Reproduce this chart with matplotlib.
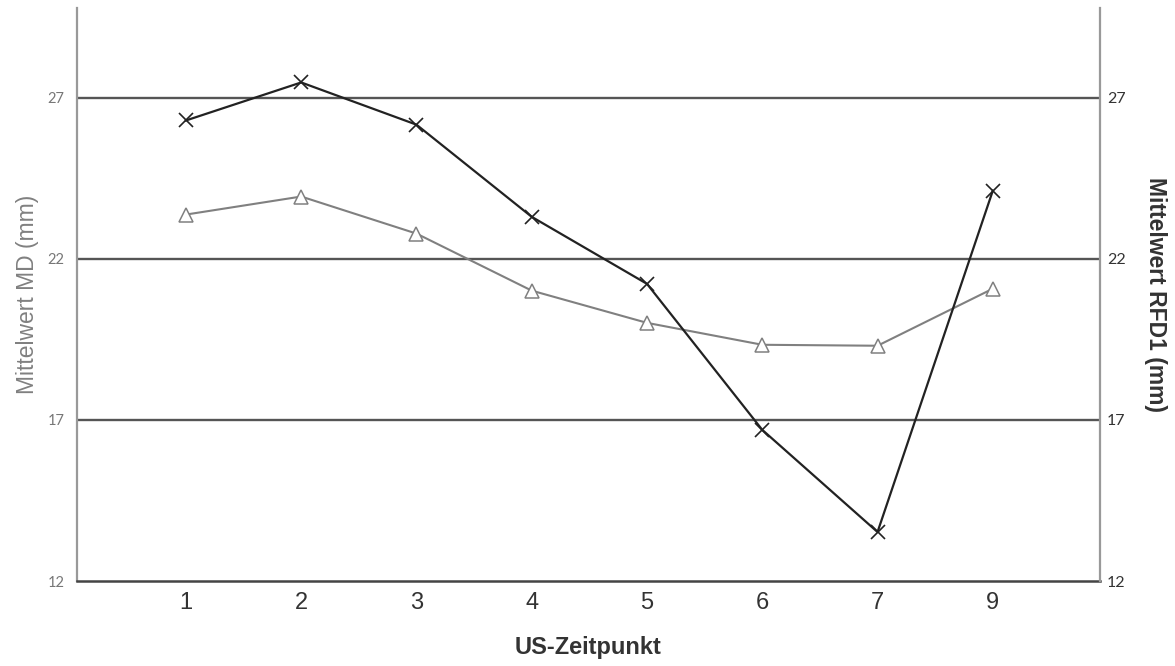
import numpy as np
import matplotlib.pyplot as plt

zeitpunkte = ['1', '2', '3', '4', '5', '6', '7', '9']
rfd1 = [26.29, 27.47, 26.16, 23.30, 21.22, 16.69, 13.52, 24.11]
md = [23.37, 23.93, 22.78, 21.01, 20.01, 19.33, 19.30, 21.07]
yticks = [12, 17, 22, 27]

fig = plt.figure(figsize=(11.75, 6.66), dpi=100)
ax = fig.add_axes([77/1175, 1 - 581/666, (1100 - 77)/1175, (581 - 8)/666])
ax2 = ax.twinx()

x = np.arange(len(zeitpunkte))

for y in [17, 22, 27]:
    ax.axhline(y, color='#555555', lw=1.7, zorder=1)

ax.plot(x, md, color='#808080', lw=1.5, marker='^', ms=10, mfc='white',
        mec='#808080', mew=1.1, zorder=3)
ax2.plot(x, rfd1, color='#222222', lw=1.6, marker='x', ms=10, mew=1.2, zorder=3)

for a in (ax, ax2):
    a.set_ylim(12, 29.78)
    a.set_yticks(yticks)
    a.set_xlim(-0.945, 7.93)
    for s in a.spines.values():
        s.set_visible(False)

ax.spines['left'].set_visible(True)
ax.spines['left'].set_color('#999999')
ax.spines['left'].set_linewidth(1.6)
ax.spines['bottom'].set_visible(True)
ax.spines['bottom'].set_color('#444444')
ax.spines['bottom'].set_linewidth(1.8)
ax2.spines['right'].set_visible(True)
ax2.spines['right'].set_color('#999999')
ax2.spines['right'].set_linewidth(1.6)

ax.set_xticks(x)
ax.set_xticklabels(zeitpunkte, fontsize=17, family='Liberation Sans', color='#333333')
ax.tick_params(axis='x', length=0, pad=8)
ax.tick_params(axis='y', length=0, pad=9, labelsize=10.5, labelcolor='#777777')
ax2.tick_params(axis='y', length=0, pad=5, labelsize=11.5, labelcolor='#333333')
for lab in ax.get_yticklabels() + ax2.get_yticklabels():
    lab.set_family('Lato')

ax.set_xlabel('US-Zeitpunkt', fontsize=17, fontweight='bold', family='Liberation Sans',
              color='#333333', labelpad=16)
ax.set_ylabel('Mittelwert MD (mm)', fontsize=16.5, family='Liberation Sans',
              color='#808080', labelpad=6)
ax2.set_ylabel('Mittelwert RFD1 (mm)', fontsize=16.5, fontweight='bold', family='Liberation Sans',
               color='#333333', rotation=270, labelpad=30)

fig.savefig('out.png', dpi=100)
